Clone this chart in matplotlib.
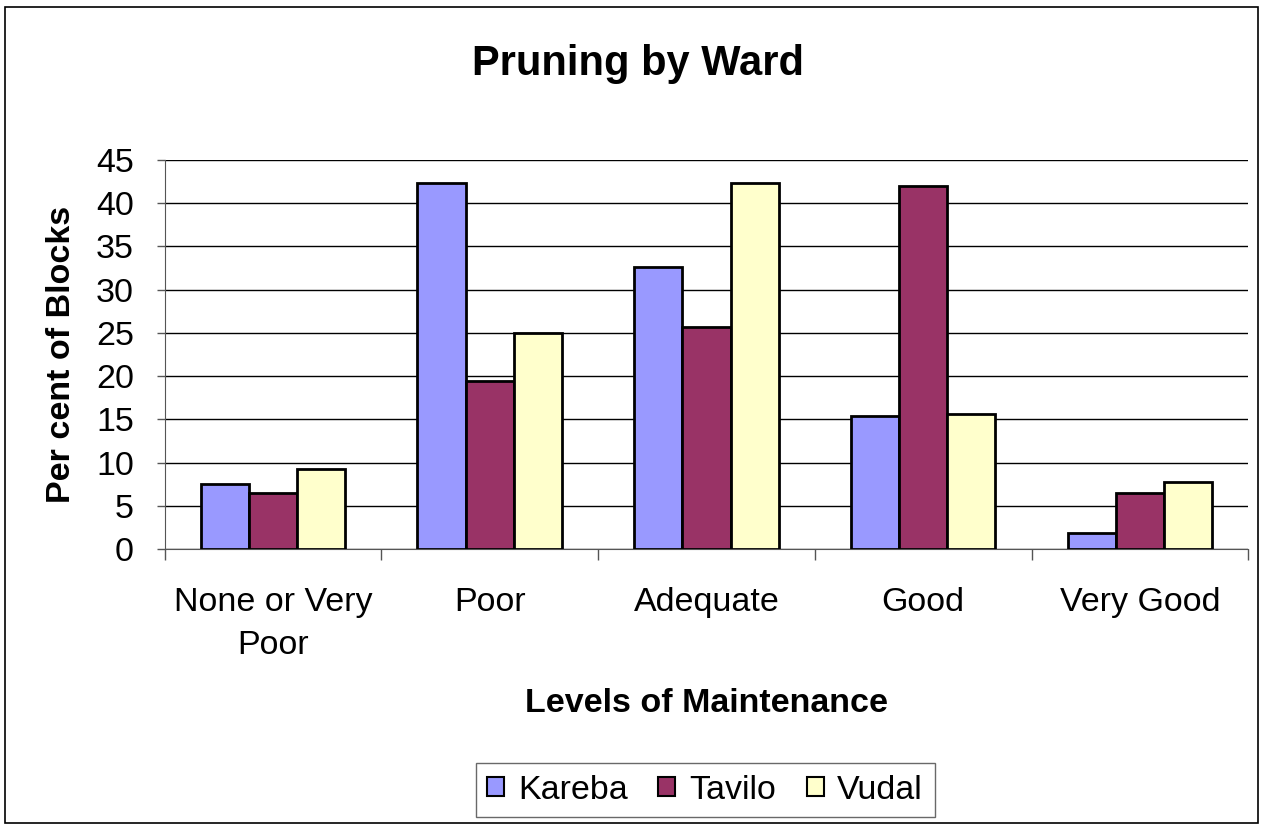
import numpy as np
import matplotlib
matplotlib.use("Agg")
import matplotlib.pyplot as plt
from matplotlib.patches import Rectangle

plt.rcParams['font.family'] = ['Liberation Sans', 'DejaVu Sans']

categories = ["None or Very\nPoor", "Poor", "Adequate", "Good", "Very Good"]
series_names = ["Kareba", "Tavilo", "Vudal"]
kareba = [7.5, 42.3, 32.6, 15.4, 1.9]
tavilo = [6.5, 19.4, 25.7, 42.0, 6.5]
vudal = [9.3, 25.0, 42.3, 15.6, 7.8]
colors = ["#9999FF", "#993366", "#FFFFCC"]
yticks = [0, 5, 10, 15, 20, 25, 30, 35, 40, 45]

fig = plt.figure(figsize=(12.66, 8.25), dpi=100)
ax = fig.add_axes([0.130, 0.3345, 0.856, 0.4715])

x = np.arange(len(categories))
w = 0.2222
for i, (vals, name, c) in enumerate(zip([kareba, tavilo, vudal], series_names, colors)):
    ax.bar(x + (i - 1) * w, vals, width=w, color=c, edgecolor="black",
           linewidth=2, label=name, zorder=3)

ax.set_xlim(-0.5, 4.5)
ax.set_ylim(0, 45)
ax.set_yticks(yticks)
ax.yaxis.grid(True, color="black", linewidth=1, zorder=0)
ax.tick_params(axis="y", labelsize=24.5, length=6, width=1, direction="out", pad=16,
               color="#555555")

ax.set_xticks(x)
ax.set_xticklabels(categories, fontsize=24.5, linespacing=1.5)
ax.tick_params(axis="x", which="major", length=0, pad=27)
ax.set_xticks(np.arange(-0.5, 5.0, 1.0), minor=True)
ax.tick_params(axis="x", which="minor", length=8, width=1, color="#555555")

for s in ["top", "right"]:
    ax.spines[s].set_visible(False)
ax.spines["left"].set_color("#555555")
ax.spines["bottom"].set_color("#555555")

ax.set_xlabel("Levels of Maintenance", fontsize=24.5, fontweight="bold", labelpad=20)
ax.set_ylabel("Per cent of Blocks", fontsize=24.5, fontweight="bold", labelpad=14)

fig.text(0.504, 0.922, "Pruning by Ward", fontsize=30, fontweight="bold",
         ha="center", va="center")

leg = fig.legend(loc="center", bbox_to_anchor=(0.557, 0.0424), ncol=3,
                 fontsize=24.5, frameon=True, fancybox=False, edgecolor="#444444",
                 handlelength=0.5, handleheight=0.5, handletextpad=0.4,
                 columnspacing=0.9, borderpad=0.35)
leg.get_frame().set_linewidth(1)
for h in leg.legend_handles:
    h.set_linewidth(1.5)

fig.patches.append(Rectangle((0.004, 0.002), 0.99, 0.99, transform=fig.transFigure,
                             fill=False, edgecolor="black", linewidth=1.2))

fig.savefig("out.png", dpi=100)
